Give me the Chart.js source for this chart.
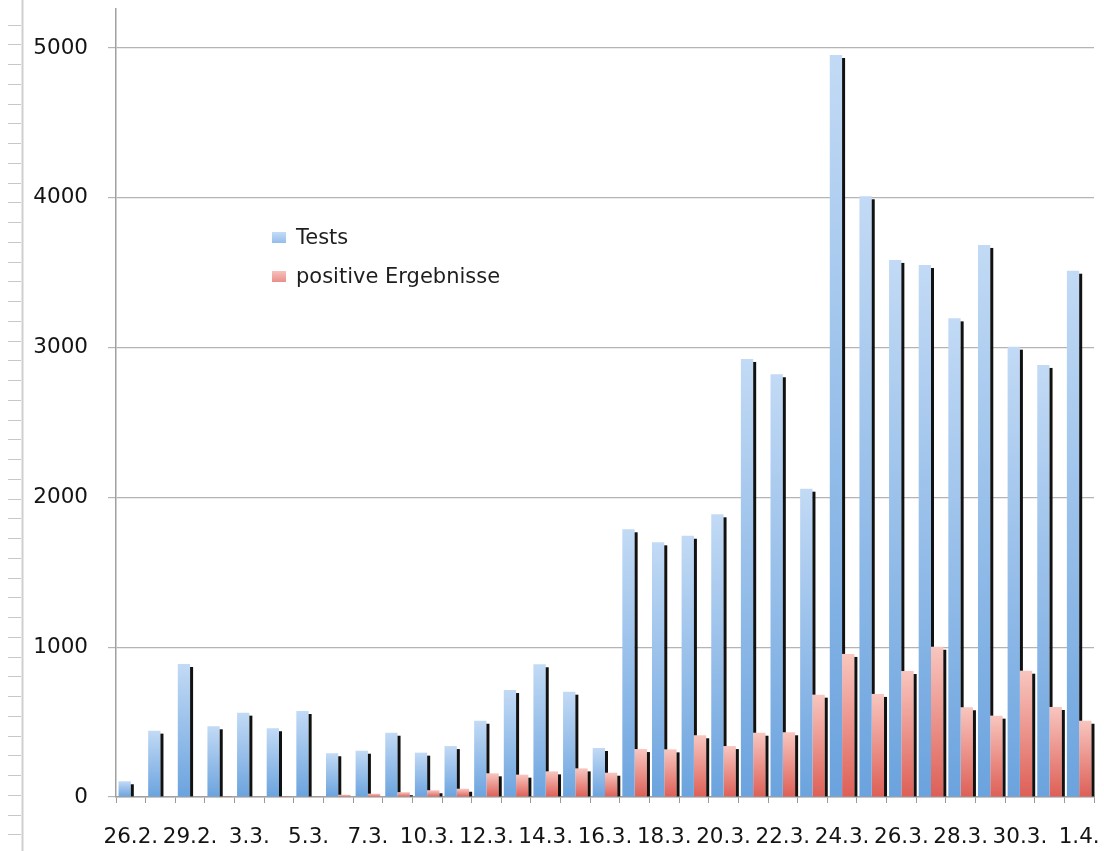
<!DOCTYPE html>
<html>
<head>
<meta charset="utf-8">
<script src="https://cdn.jsdelivr.net/npm/chart.js@4"></script>
<style>
  html, body { margin: 0; padding: 0; background: #ffffff; }
  #wrap { width: 1104px; height: 851px; position: relative; }
</style>
</head>
<body>
<div id="wrap"><canvas id="c" width="1104" height="851"></canvas></div>
<script>
// ---- data ----
const categories = ['26.2.','28.2.','29.2.','2.3.','3.3.','4.3.','5.3.','6.3.','7.3.','9.3.','10.3.','11.3.',
  '12.3.','13.3.','14.3.','15.3.','16.3.','17.3.','18.3.','19.3.','20.3.','21.3.','22.3.','23.3.',
  '24.3.','25.3.','26.3.','27.3.','28.3.','29.3.','30.3.','31.3.','1.4.'];
const tests = [105, 443, 888, 472, 563, 459, 574, 292, 309, 429, 296, 340,
  509, 714, 886, 703, 327, 1787, 1700, 1744, 1887, 2924, 2822, 2058,
  4953, 4010, 3585, 3551, 3195, 3685, 3006, 2884, 3513];
const positives = [0, 0, 0, 2, 0, 2, 3, 15, 22, 32, 45, 55,
  158, 149, 171, 191, 162, 320, 318, 412, 340, 429, 432, 683,
  955, 688, 841, 1003, 599, 543, 843, 601, 509];
const seriesNames = ['Tests', 'positive Ergebnisse'];
const yTickValues = [0, 1000, 2000, 3000, 4000, 5000];

const FONT = '"DejaVu Sans", Verdana, sans-serif';

function vGrad(c0, c1) {
  return (ctx) => {
    const ch = ctx.chart;
    const ys = ch.scales && ch.scales.y;
    if (!ch.chartArea || ctx.type !== 'data' || !ys) return c1;
    const top = ys.getPixelForValue(ctx.raw);
    const bot = ys.getPixelForValue(0);
    if (!isFinite(top) || !isFinite(bot) || bot - top < 1) return c1;
    const g = ch.ctx.createLinearGradient(0, top, 0, bot);
    g.addColorStop(0, c0);
    g.addColorStop(1, c1);
    return g;
  };
}

// left ruler decoration (screenshot artefact at the left edge)
const rulerPlugin = {
  id: 'ruler',
  beforeDraw(chart) {
    const ctx = chart.ctx;
    ctx.save();
    ctx.fillStyle = '#ffffff';
    ctx.fillRect(0, 0, chart.width, chart.height);
    ctx.strokeStyle = '#cfcfcf';
    ctx.lineWidth = 2;
    ctx.beginPath();
    ctx.moveTo(22.5, 0); ctx.lineTo(22.5, chart.height);
    ctx.stroke();
    ctx.lineWidth = 1;
    ctx.strokeStyle = '#c8c8c8';
    ctx.beginPath();
    for (let y = 24.5; y < chart.height; y += 19.75) {
      const yy = Math.round(y) + 0.5;
      ctx.moveTo(8, yy); ctx.lineTo(21, yy);
    }
    ctx.stroke();
    ctx.restore();
  }
};

// black "3D" side of every bar
const shadowPlugin = {
  id: 'barShadow',
  afterDatasetsDraw(chart) {
    const ctx = chart.ctx;
    const mb = chart.getDatasetMeta(0), mr = chart.getDatasetMeta(1);
    ctx.save();
    ctx.fillStyle = '#111111';
    mb.data.forEach((bar, i) => {
      const p = bar.getProps(['x', 'y', 'base', 'width'], true);
      const right = p.x + p.width / 2;
      const top = p.y + 3;
      const redTop = mr.data[i] ? mr.data[i].getProps(['y'], true).y : p.base;
      const bottom = Math.min(p.base, redTop);
      if (bottom > top) ctx.fillRect(right, top, 3, bottom - top);
    });
    mr.data.forEach((bar) => {
      const p = bar.getProps(['x', 'y', 'base', 'width'], true);
      const right = p.x + p.width / 2;
      const top = p.y + 3;
      if (p.base > top) ctx.fillRect(right, top, 3, p.base - top);
    });
    ctx.restore();
  }
};

// legend inside the plot, like the reference
const legendPlugin = {
  id: 'innerLegend',
  afterDraw(chart) {
    const ctx = chart.ctx;
    const items = [
      { text: chart.data.datasets[0].label, c0: '#c4dcf6', c1: '#8fbbe9', y: 238 },
      { text: chart.data.datasets[1].label, c0: '#f6c2bc', c1: '#e88a84', y: 277 }
    ];
    ctx.save();
    ctx.font = '21px ' + FONT;
    ctx.textBaseline = 'middle';
    items.forEach(it => {
      const g = ctx.createLinearGradient(0, it.y - 6, 0, it.y + 6);
      g.addColorStop(0, it.c0); g.addColorStop(1, it.c1);
      ctx.fillStyle = g;
      ctx.fillRect(272, it.y - 6, 14, 11);
      ctx.fillStyle = '#1e1e1e';
      ctx.fillText(it.text, 296, it.y + 1);
    });
    ctx.restore();
  }
};

function zeroPad(s) {
  s.paddingTop = 0; s.paddingBottom = 0; s.paddingLeft = 0; s.paddingRight = 0;
}

new Chart(document.getElementById('c'), {
  type: 'bar',
  data: {
    labels: categories,
    datasets: [
      {
        label: seriesNames[0],
        data: tests,
        backgroundColor: vGrad('#c2daf5', '#6ba3de'),
        borderWidth: 0,
        categoryPercentage: 0.83,
        barPercentage: 1.0
      },
      {
        label: seriesNames[1],
        data: positives,
        backgroundColor: vGrad('#f8c6bf', '#dd5f56'),
        borderWidth: 0,
        categoryPercentage: 0.83,
        barPercentage: 1.0
      }
    ]
  },
  options: {
    responsive: false,
    animation: false,
    events: [],
    layout: { padding: { left: 0, right: 10, top: 9, bottom: 0 } },
    plugins: {
      legend: { display: false },
      tooltip: { enabled: false },
      title: { display: false }
    },
    scales: {
      x: {
        offset: true,
        grid: {
          display: true,
          offset: true,
          drawOnChartArea: false,
          drawTicks: true,
          tickLength: 6,
          color: '#9a9a9a',
          lineWidth: 1
        },
        border: { display: true, color: '#a0a0a0', width: 1.5 },
        ticks: {
          autoSkip: false,
          maxRotation: 0,
          minRotation: 0,
          padding: 22,
          color: '#141414',
          font: { family: FONT, size: 21.5 },
          callback: function (value, index) {
            return index % 2 === 0 ? categories[index] : '';
          }
        },
        afterFit: (s) => { s.height = 54; zeroPad(s); }
      },
      y: {
        min: 0,
        max: 5260,
        grid: {
          color: '#b4b4b4',
          lineWidth: 1.2,
          tickLength: 8,
          drawTicks: true
        },
        border: { display: true, color: '#a0a0a0', width: 1.5 },
        ticks: {
          stepSize: 1000,
          padding: 20,
          color: '#141414',
          font: { family: FONT, size: 21.5 },
          callback: (v) => String(v)
        },
        afterBuildTicks: (axis) => {
          axis.ticks = yTickValues.map(v => ({ value: v }));
        },
        afterFit: (s) => { s.width = 116; zeroPad(s); }
      }
    }
  },
  plugins: [rulerPlugin, shadowPlugin, legendPlugin]
});
</script>
</body>
</html>
